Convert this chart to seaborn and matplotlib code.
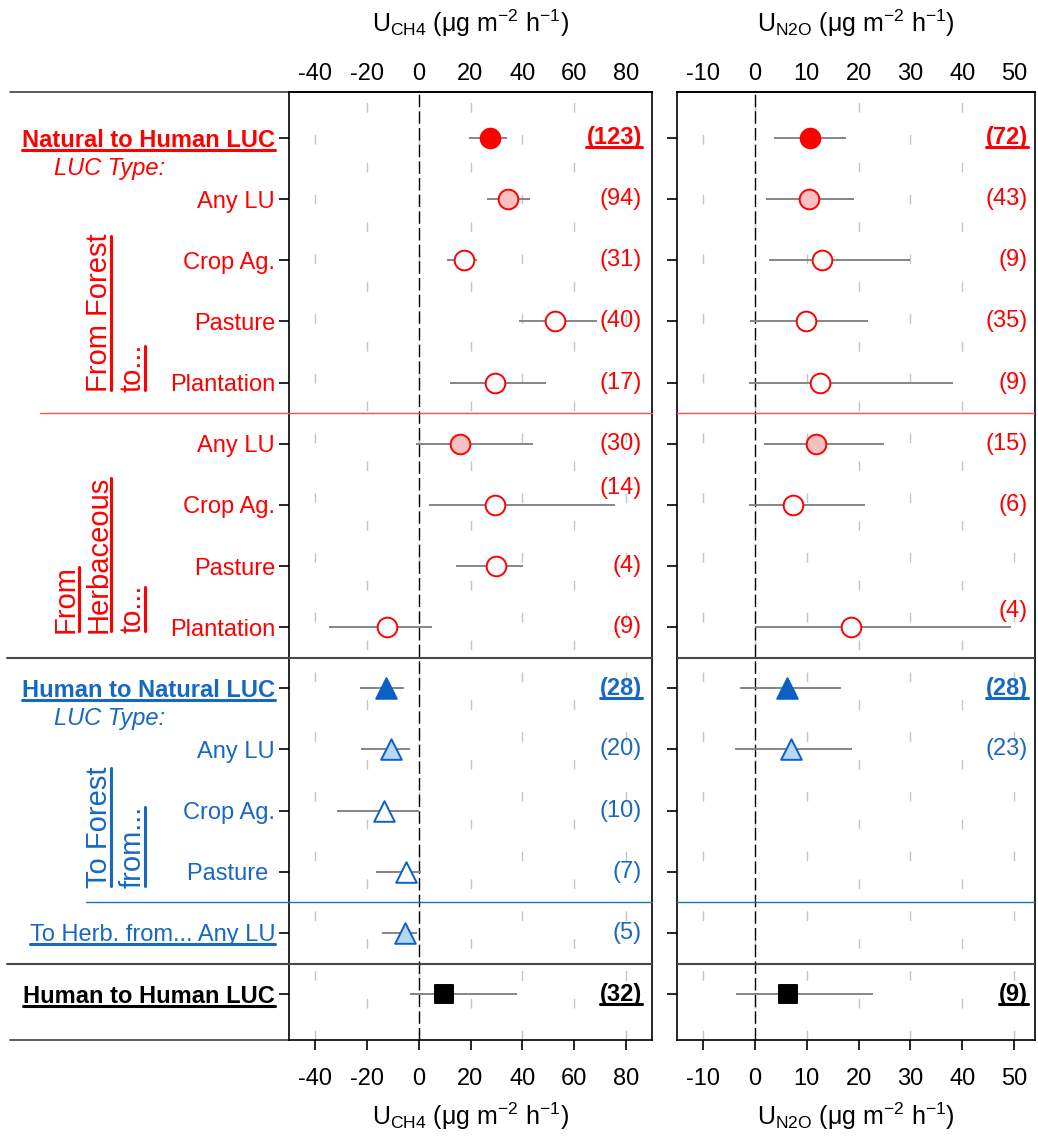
import numpy as np
import pandas as pd
import seaborn as sns
import matplotlib.pyplot as plt
from matplotlib.lines import Line2D

nan = np.nan

# rows, top to bottom
row_labels = ["Natural to Human LUC", "Any LU", "Crop Ag.", "Pasture", "Plantation",
              "Any LU", "Crop Ag.", "Pasture", "Plantation",
              "Human to Natural LUC", "Any LU", "Crop Ag.", "Pasture ",
              "To Herb. from... Any LU", "Human to Human LUC"]
row_group = ["nh"] * 9 + ["hn"] * 5 + ["hh"]
row_kind = ["overall", "any", "spec", "spec", "spec", "any", "spec", "spec", "spec",
            "overall", "any", "spec", "spec", "any", "overall"]

ch4_mean = [27.5, 34.5, 17.5, 52.5, 29.5, 15.8, 29.5, 29.8, -12.3, -12.5, -10.5, -13.2, -4.8, -5.3, 9.8]
ch4_lo = [19.5, 26.5, 10.8, 38.8, 12.2, -1.0, 4.0, 14.5, -34.5, -22.5, -22.3, -31.3, -16.5, -14.3, -3.3]
ch4_hi = [34.0, 42.8, 22.5, 68.8, 49.0, 44.2, 75.8, 40.2, 5.2, -5.8, -3.2, 0.2, 0.8, -0.5, 37.8]
ch4_n = [123, 94, 31, 40, 17, 30, 14, 4, 9, 28, 20, 10, 7, 5, 32]

n2o_mean = [10.7, 10.4, 13.0, 9.8, 12.6, 11.8, 7.4, nan, 18.5, 6.2, 6.9, nan, nan, nan, 6.3]
n2o_lo = [3.6, 2.1, 2.7, -1.0, -1.2, 1.7, -1.2, nan, 0.0, -2.8, -3.8, nan, nan, nan, -3.6]
n2o_hi = [17.6, 19.2, 30.0, 21.8, 38.1, 24.9, 21.3, nan, 49.3, 16.7, 18.8, nan, nan, nan, 22.8]
n2o_n = [72, 43, 9, 35, 9, 15, 6, None, 4, 28, 23, None, None, None, 9]

ch4_ticks = [-40, -20, 0, 20, 40, 60, 80]
n2o_ticks = [-10, 0, 10, 20, 30, 40, 50]

RED = "#FF0000"
PINK = "#F8C0C0"
BLUE = "#0A60C4"
LBLUE = "#B4D8F6"
TBLUE = "#1668C4"

group_color = {"nh": RED, "hn": TBLUE, "hh": "black"}
styles = {
    ("nh", "overall"): ("o", RED, RED, 200),
    ("nh", "any"): ("o", PINK, RED, 200),
    ("nh", "spec"): ("o", "white", RED, 200),
    ("hn", "overall"): ("^", BLUE, BLUE, 220),
    ("hn", "any"): ("^", LBLUE, BLUE, 220),
    ("hn", "spec"): ("^", "white", BLUE, 220),
    ("hh", "overall"): ("s", "black", "black", 160),
}

sns.set_theme(style="white")
plt.rcParams["font.family"] = ["Liberation Sans", "DejaVu Sans"]
plt.rcParams["axes.unicode_minus"] = False
for key in ["text.color", "axes.labelcolor", "xtick.color", "ytick.color"]:
    plt.rcParams[key] = "black"
FS = 17

pos = np.arange(len(row_labels))

fig = plt.figure(figsize=(10.38, 11.41), dpi=100)
ax1 = fig.add_axes([289 / 1038, 101 / 1141, 363 / 1038, 948 / 1141])
ax2 = fig.add_axes([677 / 1038, 101 / 1141, 358 / 1038, 948 / 1141])


def draw_panel(ax, mean, lo, hi, counts, xlim, ticks, label, raised, count_x):
    df = pd.DataFrame({"pos": pos, "mean": mean, "lo": lo, "hi": hi,
                       "group": row_group, "kind": row_kind}).dropna(subset=["mean"])
    for i, t in enumerate(ticks):
        ax.axvline(t, color="#C4C4C4", lw=1, ls=(20 * (i % 2), (7, 36)), zorder=0)
    ax.axvline(0, color="black", lw=1, ls=(0, (9, 3)), zorder=1)
    ax.hlines(df["pos"], df["lo"], df["hi"], color="#858585", lw=1.4, zorder=2)
    for (g, k), sub in df.groupby(["group", "kind"]):
        m, fc, ec, s = styles[(g, k)]
        sns.scatterplot(data=sub, x="mean", y="pos", marker=m, s=s, color=fc,
                        edgecolor=ec, linewidth=1.4, ax=ax, zorder=3, legend=False)

    texts = []
    for i, c in enumerate(counts):
        if c is None:
            continue
        y = pos[i] - (0.27 if i in raised else 0)
        bold = row_kind[i] == "overall"
        t = ax.text(count_x, y, f"({c})", transform=ax.get_yaxis_transform(),
                    ha="right", va="center", fontsize=FS, color=group_color[row_group[i]],
                    fontweight="bold" if bold else "normal")
        if bold:
            texts.append((t, group_color[row_group[i]]))

    ax.set_xlim(*xlim)
    ax.set_ylim(14.75, -0.75)
    ax.set_xticks(ticks)
    ax.set_xticklabels([str(t) for t in ticks])
    ax.set_yticks(pos)
    ax.tick_params(axis="x", direction="out", length=7, width=1.2, pad=13,
                   labelsize=FS, bottom=True, colors="black")
    ax.tick_params(axis="y", direction="out", length=7, width=1.2, pad=3,
                   labelsize=FS, left=True)
    ax.set_xlabel(label, fontsize=18, labelpad=8, color="black")
    ax.set_ylabel("")
    for sp in ax.spines.values():
        sp.set_color("black")
        sp.set_linewidth(1.2)
        sp.set_visible(True)

    sec = ax.secondary_xaxis("top")
    sec.set_xticks(ticks)
    sec.set_xticklabels([str(t) for t in ticks])
    sec.tick_params(length=0, pad=5, labelsize=FS, colors="black")
    sec.set_xlabel(label, fontsize=18, labelpad=22, color="black")
    sec.spines["top"].set_linewidth(1.2)
    sec.spines["top"].set_color("black")
    return texts


ch4_label = r"U$_{\mathregular{CH4}}$ ($\mathregular{\mu}$g m$^{\mathregular{-2}}$ h$^{\mathregular{-1}}$)"
n2o_label = r"U$_{\mathregular{N2O}}$ ($\mathregular{\mu}$g m$^{\mathregular{-2}}$ h$^{\mathregular{-1}}$)"

ul1 = draw_panel(ax1, ch4_mean, ch4_lo, ch4_hi, ch4_n, (-50, 90), ch4_ticks, ch4_label, {6}, 0.972)
ul2 = draw_panel(ax2, n2o_mean, n2o_lo, n2o_hi, n2o_n, (-15, 54), n2o_ticks, n2o_label, {8}, 0.98)

# row labels on the left panel
ax1.set_yticklabels(row_labels)
ul_rows = []
for i, tl in enumerate(ax1.get_yticklabels()):
    col = group_color[row_group[i]]
    tl.set_color(col)
    if row_kind[i] == "overall":
        tl.set_fontweight("bold")
    if row_kind[i] == "overall" or i == 13:
        ul_rows.append((tl, col))
ax2.set_yticklabels([])

# section separators
tr = ax1.get_yaxis_transform()
for y, col, lw, x0 in [(4.5, "#FF5050", 1.0, -0.686), (8.5, "#484848", 1.5, -0.777),
                       (12.5, "#1F6FBF", 1.0, -0.559), (13.5, "#484848", 1.5, -0.777)]:
    ax1.plot([x0, 1], [y, y], color=col, lw=lw, transform=tr, clip_on=False, zorder=4)
    ax2.axhline(y, color=col, lw=lw, zorder=4)
for y in [0, 1]:
    ax1.plot([-0.769, 0], [y, y], color="#404040", lw=1.2, transform=ax1.transAxes, clip_on=False)

# sub headings
for y, col in [(0.5, RED), (9.5, TBLUE)]:
    ax1.text(-0.648, y, "LUC Type:", transform=tr, ha="left", va="center",
             fontsize=FS, fontstyle="italic", color=col)

rot_specs = [(-0.524, 4.16, "From Forest", RED), (-0.430, 4.16, "to...", RED),
             (-0.614, 8.1, "From", RED), (-0.524, 8.1, "Herbaceous", RED), (-0.430, 8.1, "to...", RED),
             (-0.524, 12.26, "To Forest", TBLUE), (-0.430, 12.26, "from...", TBLUE)]
rot_texts = []
for x, y, s, col in rot_specs:
    t = ax1.text(x, y, s, transform=tr, rotation=90, ha="center", va="bottom",
                 fontsize=21, color=col)
    rot_texts.append((t, col))

fig.canvas.draw()
renderer = fig.canvas.get_renderer()
inv = fig.transFigure.inverted()


def underline(txt, col, vertical=False, lw=2.2):
    bb = txt.get_window_extent(renderer=renderer)
    if vertical:
        x = bb.x1 - 1.5
        pts = inv.transform([(x, bb.y0 + 2), (x, bb.y1 - 2)])
    else:
        y = bb.y0 + 2
        pts = inv.transform([(bb.x0, y), (bb.x1, y)])
    fig.add_artist(Line2D(pts[:, 0], pts[:, 1], color=col, lw=lw, transform=fig.transFigure))


for t, c in ul1 + ul2 + ul_rows:
    underline(t, c)
for t, c in rot_texts:
    underline(t, c, vertical=True)

fig.savefig("out.png", dpi=100, facecolor="white")
